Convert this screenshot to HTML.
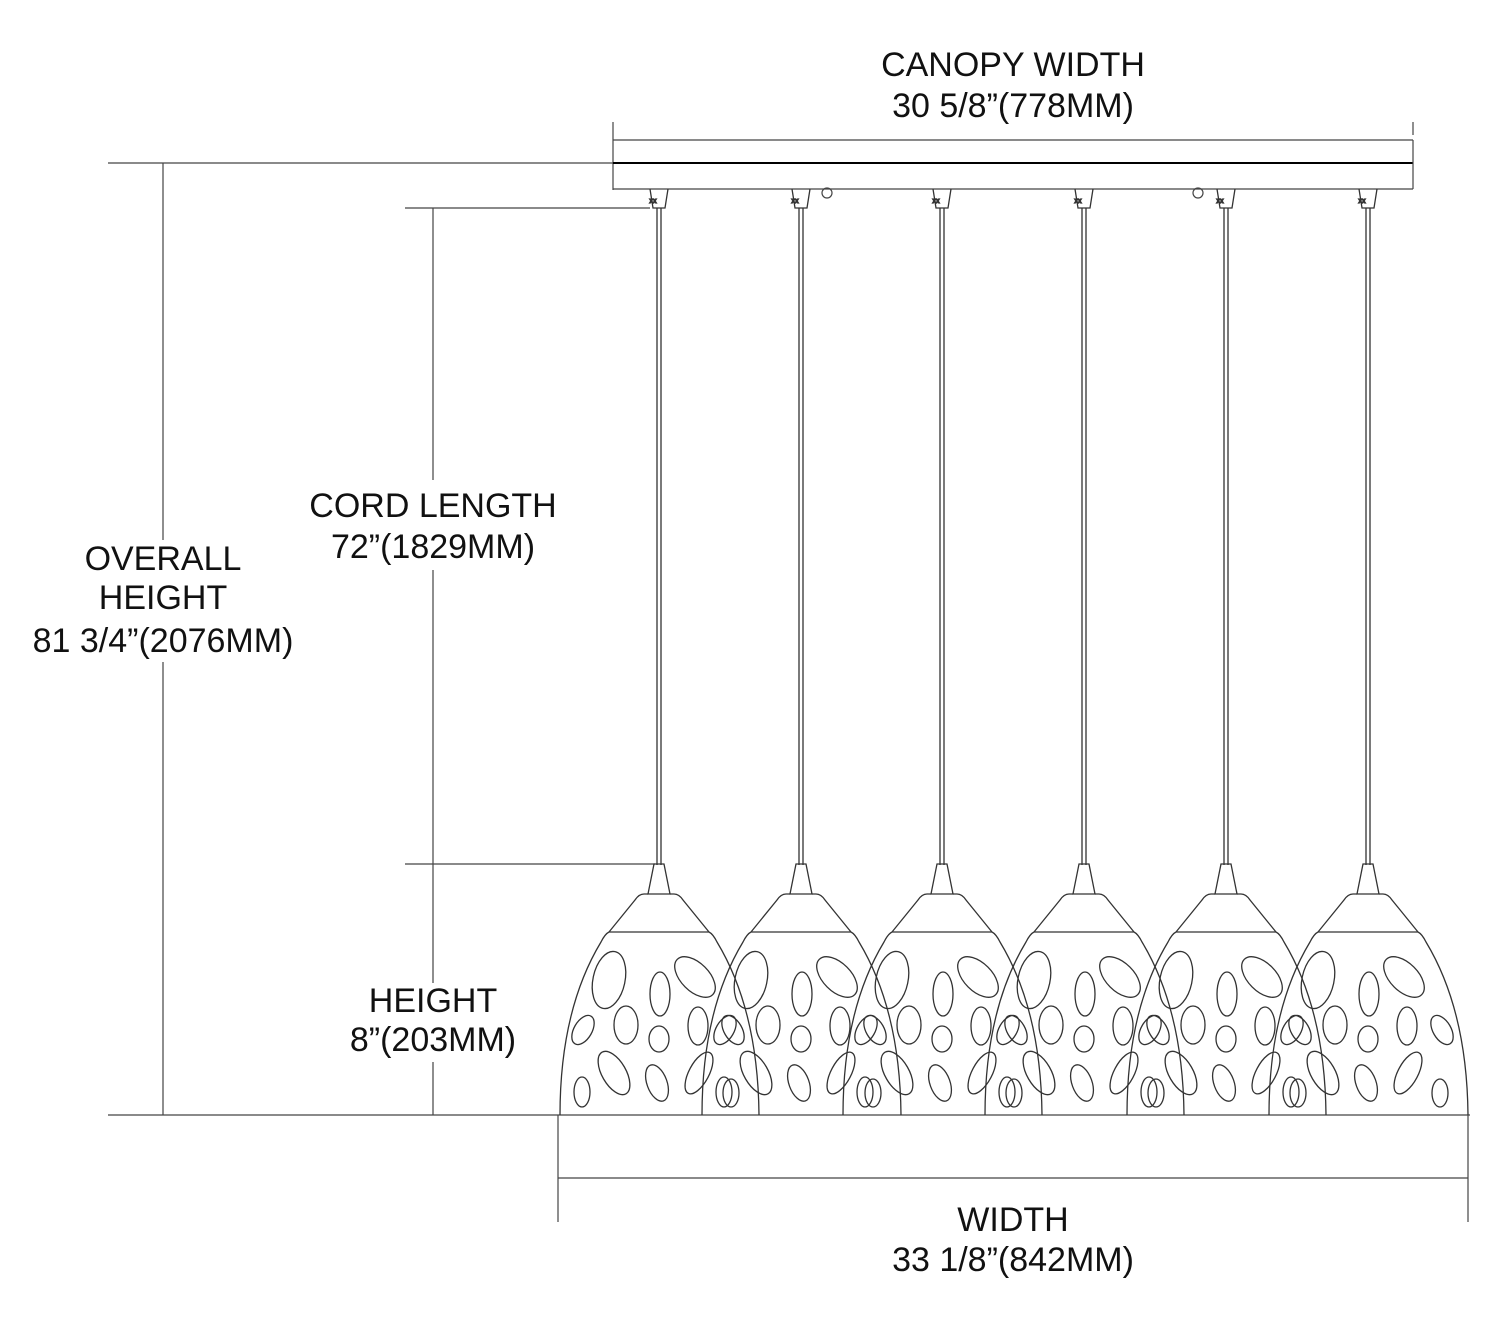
<!DOCTYPE html>
<html><head><meta charset="utf-8"><style>
html,body{margin:0;padding:0;background:#fff}
svg{display:block}
text{font-family:"Liberation Sans",sans-serif;font-size:34px;fill:#111;text-anchor:middle}
</style></head><body>
<svg width="1500" height="1329" viewBox="0 0 1500 1329" xmlns="http://www.w3.org/2000/svg">
<defs>
<g id="shade" fill="none" stroke="#333" stroke-width="1.3">
 <line x1="-2" y1="208" x2="-2" y2="865"/><line x1="2" y1="208" x2="2" y2="865"/>
 <path d="M-9,189 L-6,208 L6,208 L9,189"/>
 <path d="M-5,864 L5,864 L11,894 L-11,894 Z"/>
 <path d="M-11,894 L-15,894 Q-20,894 -24,900 L-50,932 M11,894 L15,894 Q20,894 24,900 L50,932"/>
 <line x1="-50" y1="932" x2="50" y2="932"/>
 <path d="M-50,932 Q-54,934 -58,942 Q-99,1010 -99,1115 M50,932 Q54,934 58,942 Q99,1010 100,1115"/>
 <ellipse cx="-50" cy="980" rx="16" ry="29" transform="rotate(12 -50 980)"/>
 <ellipse cx="1" cy="994" rx="10" ry="22"/>
 <ellipse cx="36" cy="977" rx="14" ry="25" transform="rotate(-45 36 977)"/>
 <ellipse cx="-76" cy="1030" rx="9" ry="16" transform="rotate(30 -76 1030)"/>
 <ellipse cx="74" cy="1030" rx="9" ry="16" transform="rotate(-30 74 1030)"/>
 <ellipse cx="-33" cy="1025" rx="12" ry="19"/>
 <ellipse cx="0" cy="1039" rx="10" ry="13"/>
 <ellipse cx="39" cy="1026" rx="10" ry="19"/>
 <ellipse cx="-45" cy="1073" rx="12" ry="24" transform="rotate(-30 -45 1073)"/>
 <ellipse cx="-2" cy="1083" rx="10" ry="19" transform="rotate(-20 -2 1083)"/>
 <ellipse cx="40" cy="1073" rx="10" ry="23" transform="rotate(28 40 1073)"/>
 <ellipse cx="-77" cy="1092" rx="8" ry="15"/>
 <ellipse cx="72" cy="1093" rx="8" ry="14"/>
 <text x="-6" y="203" style="font-size:7px">xx</text>
</g>
</defs>
<g stroke="#444" stroke-width="1.2" fill="none">
 <line x1="108" y1="163" x2="613" y2="163"/>
 <line x1="613" y1="122" x2="613" y2="190"/>
 <line x1="1413" y1="122" x2="1413" y2="135"/>
 <line x1="613" y1="140" x2="1413" y2="140"/>
 <line x1="613" y1="163" x2="1413" y2="163" stroke="#000" stroke-width="2"/>
 <line x1="613" y1="189" x2="1413" y2="189"/>
 <line x1="1413" y1="140" x2="1413" y2="189"/>
 <circle cx="827" cy="193" r="5"/><circle cx="1198" cy="193" r="5"/>
 <line x1="163" y1="163" x2="163" y2="540"/>
 <line x1="163" y1="662" x2="163" y2="1115"/>
 <line x1="433" y1="208" x2="433" y2="480"/>
 <line x1="433" y1="570" x2="433" y2="983"/>
 <line x1="433" y1="1062" x2="433" y2="1115"/>
 <line x1="405" y1="208" x2="650" y2="208"/>
 <line x1="405" y1="864" x2="655" y2="864"/>
 <line x1="108" y1="1115" x2="1470" y2="1115"/>
 <line x1="558" y1="1115" x2="558" y2="1222"/>
 <line x1="1468" y1="1115" x2="1468" y2="1222"/>
 <line x1="558" y1="1178" x2="1468" y2="1178"/>
</g>
<use href="#shade" x="659"/>
<use href="#shade" x="801"/>
<use href="#shade" x="942"/>
<use href="#shade" x="1084"/>
<use href="#shade" x="1226"/>
<use href="#shade" x="1368"/>
<text x="1013" y="76">CANOPY WIDTH</text>
<text x="1013" y="117">30 5/8”(778MM)</text>
<text x="163" y="570">OVERALL</text>
<text x="163" y="609">HEIGHT</text>
<text x="163" y="652">81 3/4”(2076MM)</text>
<text x="433" y="517">CORD LENGTH</text>
<text x="433" y="558">72”(1829MM)</text>
<text x="433" y="1012">HEIGHT</text>
<text x="433" y="1051">8”(203MM)</text>
<text x="1013" y="1231">WIDTH</text>
<text x="1013" y="1271">33 1/8”(842MM)</text>
</svg>
</body></html>
